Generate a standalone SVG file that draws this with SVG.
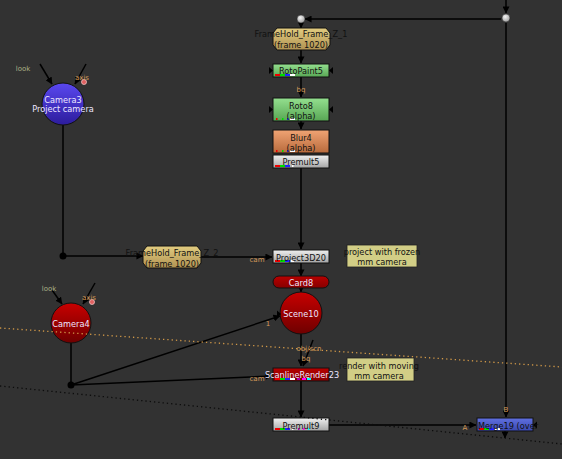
<svg xmlns="http://www.w3.org/2000/svg" width="562" height="459" viewBox="0 0 562 459">
<defs>
<marker id="ah" viewBox="0 0 8 8" refX="7.5" refY="4" markerWidth="7" markerHeight="7" markerUnits="userSpaceOnUse" orient="auto"><path d="M0,0 L8,4 L0,8 Z" fill="#000"/></marker>
<linearGradient id="gGreen" x1="0" y1="0" x2="0" y2="1"><stop offset="0" stop-color="#94e08f"/><stop offset="1" stop-color="#58a654"/></linearGradient>
<linearGradient id="gOrange" x1="0" y1="0" x2="0" y2="1"><stop offset="0" stop-color="#f0a474"/><stop offset="1" stop-color="#b86a3c"/></linearGradient>
<linearGradient id="gGray" x1="0" y1="0" x2="0" y2="1"><stop offset="0" stop-color="#f0f0f0"/><stop offset="1" stop-color="#a4a4a4"/></linearGradient>
<linearGradient id="gHold" x1="0" y1="0" x2="0" y2="1"><stop offset="0" stop-color="#e2cc80"/><stop offset="1" stop-color="#b09252"/></linearGradient>
<linearGradient id="gRed" x1="0" y1="0" x2="0" y2="1"><stop offset="0" stop-color="#c80000"/><stop offset="1" stop-color="#6e0000"/></linearGradient>
<linearGradient id="gRedFlat" x1="0" y1="0" x2="0" y2="1"><stop offset="0" stop-color="#b80000"/><stop offset="1" stop-color="#860000"/></linearGradient>
<linearGradient id="gBlue" x1="0" y1="0" x2="0" y2="1"><stop offset="0" stop-color="#5a48f0"/><stop offset="1" stop-color="#2c1c9c"/></linearGradient>
<linearGradient id="gMerge" x1="0" y1="0" x2="0" y2="1"><stop offset="0" stop-color="#6070e0"/><stop offset="1" stop-color="#3a48b0"/></linearGradient>
<radialGradient id="gDot" cx="0.4" cy="0.35" r="0.7"><stop offset="0" stop-color="#f4f4f4"/><stop offset="1" stop-color="#9a9a9a"/></radialGradient>
</defs>
<style>
.bg{fill:#323232}
.w{stroke:#000;stroke-width:1.5;fill:none}
.wa{stroke:#000;stroke-width:1.5;fill:none;marker-end:url(#ah)}
.nd{stroke:#111;stroke-width:1}
.t{font-family:"DejaVu Sans",Verdana,sans-serif;font-size:8.2px;text-anchor:middle;fill:#111}
.tl{font-family:"DejaVu Sans",Verdana,sans-serif;font-size:8.2px;text-anchor:middle;fill:#ece6ff}
.lb{font-family:"DejaVu Sans",Verdana,sans-serif;font-size:7px;text-anchor:middle;fill:#d49a58}
.lk{font-family:"DejaVu Sans",Verdana,sans-serif;font-size:7px;text-anchor:middle;fill:#a8ae84}
.tri{fill:#000}
</style>
<rect class="bg" x="0" y="0" width="562" height="459"/>

<g id="connectors">
<line class="wa" x1="506" y1="0" x2="506" y2="13"/>
<line class="wa" x1="501" y1="19" x2="305" y2="19"/>
<line class="wa" x1="301" y1="23" x2="301" y2="28"/>
<line class="wa" x1="301" y1="50" x2="301" y2="63"/>
<line class="wa" x1="301" y1="77" x2="301" y2="97"/>
<line class="wa" x1="301" y1="121" x2="301" y2="129"/>
<line class="wa" x1="301" y1="168" x2="301" y2="249"/>
<line class="w" x1="63" y1="124" x2="63" y2="256"/>
<line class="wa" x1="63" y1="256" x2="143" y2="256"/>
<line class="wa" x1="201" y1="257" x2="272" y2="257"/>
<line class="wa" x1="301" y1="263" x2="301" y2="276"/>
<line class="wa" x1="301" y1="288" x2="301" y2="292"/>
<line class="w" x1="71" y1="342" x2="71" y2="385"/>
<line class="wa" x1="71" y1="385" x2="280" y2="316"/>
<line class="wa" x1="71" y1="385" x2="272" y2="376"/>
<line class="wa" x1="301" y1="334" x2="301" y2="366"/>
<line class="wa" x1="313" y1="340" x2="303" y2="366"/>
<line class="wa" x1="301" y1="381" x2="301" y2="417"/>
<line class="wa" x1="329" y1="425" x2="476" y2="425"/>
<line class="wa" x1="506" y1="23" x2="506" y2="417"/>
<line class="wa" x1="505" y1="431" x2="505" y2="438"/>
<line class="wa" x1="40" y1="64" x2="52" y2="84"/>
<line class="wa" x1="86" y1="64" x2="75" y2="84"/>
<line class="wa" x1="52" y1="290" x2="62" y2="304"/>
<line class="wa" x1="95" y1="283" x2="83" y2="304"/>
<circle cx="63" cy="256" r="3.5" fill="#000"/>
<circle cx="71" cy="385" r="3.5" fill="#000"/>
<text class="lb" x="301" y="92">bq</text>
<text class="lb" x="257" y="262">cam</text>
<text class="lb" x="268" y="326">1</text>
<text class="lb" x="309" y="351">obj/scn</text>
<text class="lb" x="306" y="361">bq</text>
<text class="lb" x="257" y="381">cam</text>
<text class="lb" x="465" y="430">A</text>
<text class="lb" x="506" y="412">B</text>
</g>

<g id="dot1"><circle cx="301" cy="19" r="4" fill="url(#gDot)" stroke="#222" stroke-width="0.5"/></g>
<g id="dot2"><circle cx="506" cy="18" r="4" fill="url(#gDot)" stroke="#222" stroke-width="0.5"/></g>

<g id="FrameHold_Frame_Z_1">
<polygon class="nd" points="277,28 326,28 330,33 330,45 326,50 277,50 273,45 273,33" fill="url(#gHold)"/>
<text class="t" x="301" y="37">FrameHold_Frame_Z_1</text>
<text class="t" x="301" y="48">(frame 1020)</text>
</g>

<g id="RotoPaint5">
<rect class="nd" x="273" y="64" width="56" height="13" fill="url(#gGreen)"/>
<rect x="275" y="74" width="5" height="2" fill="#e00"/><rect x="280" y="74" width="5" height="2" fill="#0d0"/><rect x="285" y="74" width="5" height="2" fill="#22f"/><rect x="290" y="74" width="5" height="2" fill="#fff"/>
<polygon class="tri" points="269,67 273,70.5 269,74"/><polygon class="tri" points="333,67 329,70.5 333,74"/>
<text class="t" x="301" y="73.5">RotoPaint5</text>
</g>

<g id="Roto8">
<rect class="nd" x="273" y="98" width="56" height="23" fill="url(#gGreen)"/>
<rect x="276" y="118" width="1.5" height="2" fill="#e00"/><rect x="282" y="118" width="1.5" height="2" fill="#0d0"/><rect x="287" y="118" width="1.5" height="2" fill="#22f"/><rect x="290" y="118" width="5" height="2" fill="#fff"/>
<polygon class="tri" points="269,106 273,109.5 269,113"/><polygon class="tri" points="333,106 329,109.5 333,113"/>
<text class="t" x="301" y="109">Roto8</text>
<text class="t" x="301" y="119">(alpha)</text>
</g>

<g id="Blur4">
<rect class="nd" x="273" y="130" width="56" height="23" fill="url(#gOrange)"/>
<rect x="276" y="150" width="1.5" height="2" fill="#e00"/><rect x="282" y="150" width="1.5" height="2" fill="#0d0"/><rect x="287" y="150" width="1.5" height="2" fill="#22f"/><rect x="290" y="150" width="5" height="2" fill="#fff"/>
<text class="t" x="301" y="141">Blur4</text>
<text class="t" x="301" y="151">(alpha)</text>
</g>

<g id="Premult5">
<rect class="nd" x="273" y="155" width="56" height="13" fill="url(#gGray)"/>
<rect x="275" y="165" width="5" height="2" fill="#e00"/><rect x="280" y="165" width="5" height="2" fill="#0d0"/><rect x="285" y="165" width="5" height="2" fill="#22f"/><rect x="292" y="165" width="1.5" height="2" fill="#fff"/>
<text class="t" x="301" y="165">Premult5</text>
</g>

<g id="Camera3">
<circle class="nd" cx="63" cy="104" r="21" fill="url(#gBlue)"/>
<text class="tl" x="63" y="103">Camera3</text>
<text class="tl" x="63" y="112">Project camera</text>
<circle cx="84" cy="82" r="2.5" fill="#e06060" stroke="#f0c0c0" stroke-width="0.8"/>
<text class="lk" x="23" y="71">look</text>
<text class="lb" x="82" y="80">axis</text>
</g>

<g id="FrameHold_Frame_Z_2">
<polygon class="nd" points="147,246 197,246 201,251 201,263 197,268 147,268 143,263 143,251" fill="url(#gHold)"/>
<text class="t" x="172" y="256">FrameHold_Frame_Z_2</text>
<text class="t" x="172" y="267">(frame 1020)</text>
</g>

<g id="Project3D20">
<rect class="nd" x="273" y="250" width="56" height="13" fill="url(#gGray)"/>
<rect x="275" y="260" width="5" height="2" fill="#e00"/><rect x="280" y="260" width="5" height="2" fill="#0d0"/><rect x="285" y="260" width="5" height="2" fill="#22f"/><rect x="290" y="260" width="4" height="2" fill="#fff"/>
<text class="t" x="301" y="260.5">Project3D20</text>
</g>

<g id="note1">
<rect x="347" y="245" width="70" height="22" fill="#d2ce86" stroke="#222" stroke-width="0.8"/>
<text class="t" x="382" y="255">project with frozen</text>
<text class="t" x="382" y="265">mm camera</text>
</g>

<g id="Card8">
<rect class="nd" x="273" y="276" width="56" height="12" rx="6" fill="url(#gRedFlat)"/>
<text class="tl" x="301" y="285.5">Card8</text>
</g>

<g id="Scene10">
<circle class="nd" cx="301" cy="313" r="21" fill="url(#gRed)"/>
<polygon class="tri" points="277,310.5 281,314 277,317.5"/>
<text class="tl" x="301" y="317">Scene10</text>
</g>

<g id="Camera4">
<circle class="nd" cx="71" cy="323" r="20" fill="url(#gRed)"/>
<text class="tl" x="71" y="327">Camera4</text>
<circle cx="92" cy="302" r="2.5" fill="#e06060" stroke="#f0c0c0" stroke-width="0.8"/>
<text class="lk" x="49" y="291">look</text>
<text class="lb" x="89" y="300">axis</text>
</g>

<g id="ScanlineRender23">
<rect class="nd" x="273" y="368" width="56" height="13" fill="url(#gRedFlat)"/>
<rect x="275" y="378" width="5" height="2" fill="#e00"/><rect x="280" y="378" width="5" height="2" fill="#0d0"/><rect x="285" y="378" width="5" height="2" fill="#22f"/><rect x="290" y="378" width="5" height="2" fill="#fff"/><rect x="297" y="378" width="3" height="2" fill="#a0a"/><rect x="302" y="378" width="4" height="2" fill="#f0f"/><rect x="307" y="378" width="4" height="2" fill="#0ff"/>
<text class="tl" x="302" y="378">ScanlineRender23</text>
</g>

<g id="note2">
<rect x="347" y="358" width="67" height="23" fill="#d2ce86" stroke="#222" stroke-width="0.8"/>
<text class="t" x="379" y="369">render with moving</text>
<text class="t" x="379" y="379">mm camera</text>
</g>

<g id="Premult9">
<rect class="nd" x="273" y="418" width="56" height="13" fill="url(#gGray)"/>
<rect x="275" y="428" width="5" height="2" fill="#e00"/><rect x="280" y="428" width="5" height="2" fill="#0d0"/><rect x="285" y="428" width="5" height="2" fill="#22f"/><rect x="292" y="428" width="1.5" height="2" fill="#fff"/><rect x="298" y="428" width="1.5" height="2" fill="#a0a"/><rect x="303" y="428" width="1.5" height="2" fill="#f0f"/><rect x="308" y="428" width="1.5" height="2" fill="#0ff"/>
<text class="t" x="301" y="428.5">Premult9</text>
</g>

<g id="Merge19">
<rect class="nd" x="477" y="418" width="56" height="13" fill="url(#gMerge)"/>
<rect x="479" y="428" width="5" height="2" fill="#e00"/><rect x="484" y="428" width="5" height="2" fill="#0d0"/><rect x="489" y="428" width="5" height="2" fill="#22f"/><rect x="495" y="428" width="5" height="2" fill="#fff"/>
<polygon class="tri" points="537,421.5 533,425 537,428.5"/>
<text class="t" x="478" y="428.5" style="text-anchor:start">Merge19 (over</text>
</g>

<g id="backdrop-lines">
<line x1="0" y1="328" x2="562" y2="367" stroke="#d09848" stroke-width="1.3" stroke-dasharray="1.3 3"/>
<line x1="0" y1="386" x2="562" y2="444" stroke="#0c0c0c" stroke-width="1.3" stroke-dasharray="1.3 3"/>
</g>
</svg>
